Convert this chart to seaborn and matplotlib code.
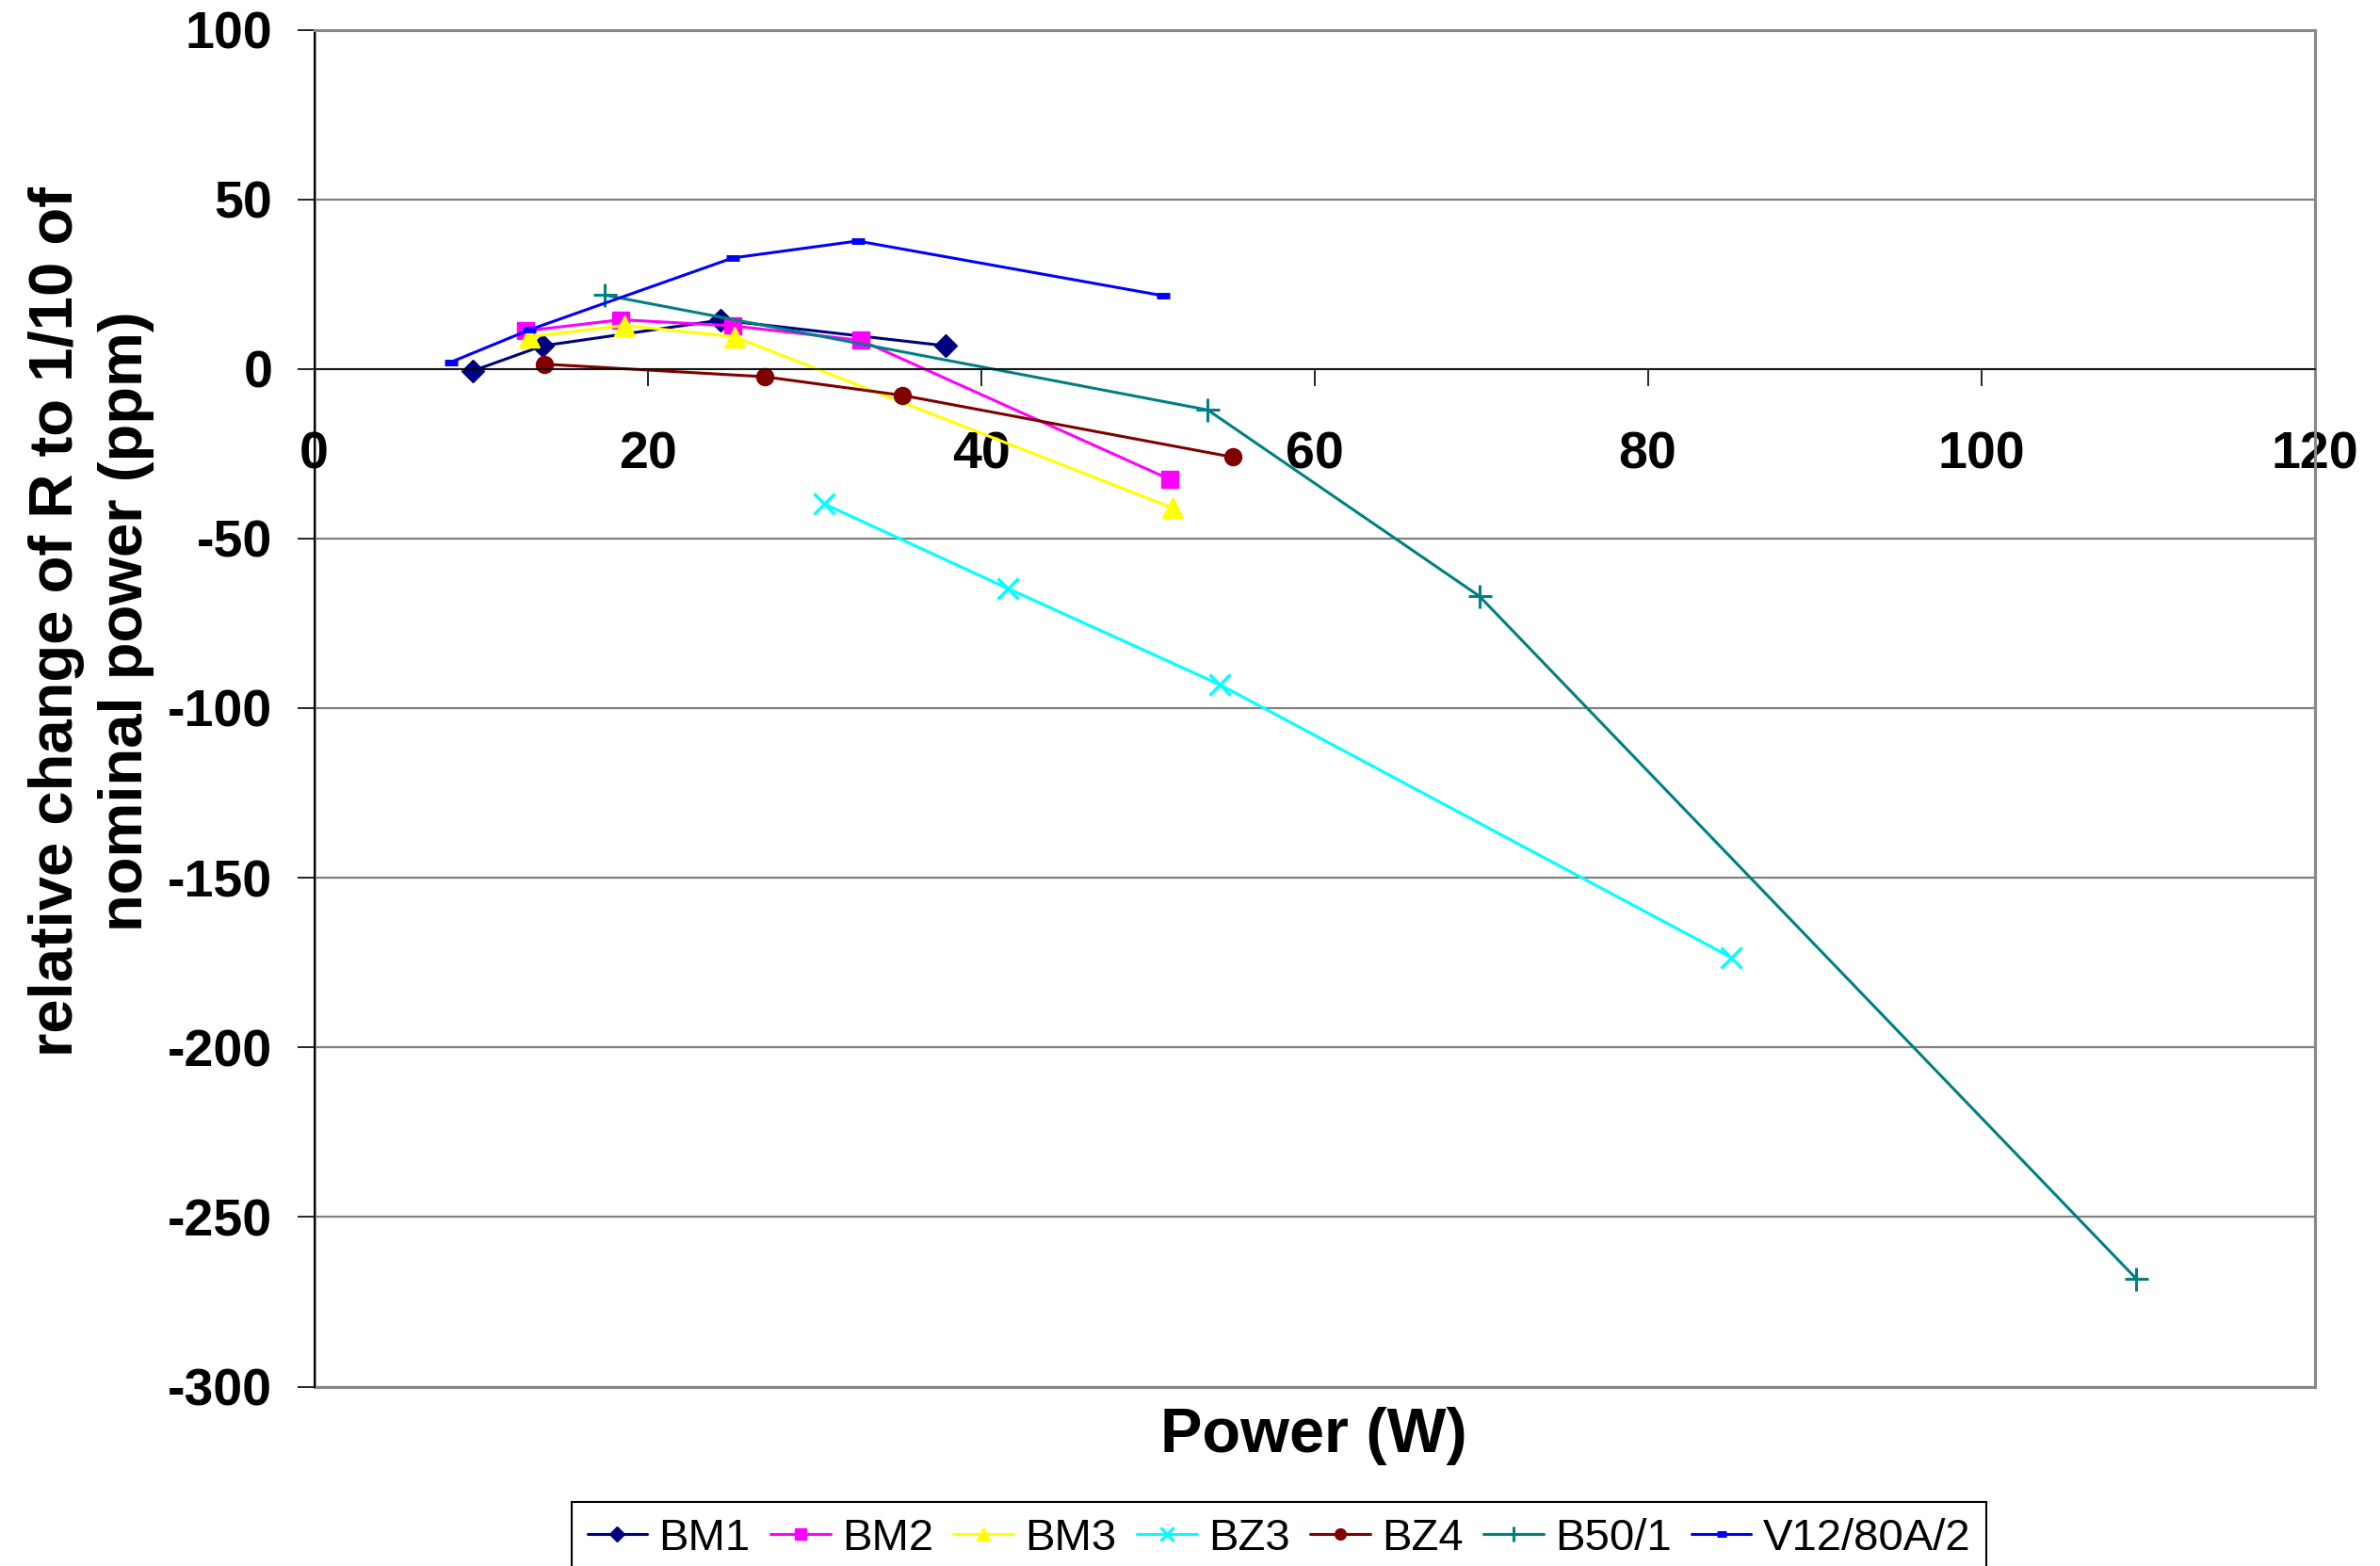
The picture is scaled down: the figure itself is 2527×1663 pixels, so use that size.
import matplotlib
matplotlib.use("Agg")
import matplotlib.pyplot as plt
from matplotlib.patches import Rectangle
import seaborn as sns
import pandas as pd

# ---------------- data ----------------
bm1_x = [9.5, 13.7, 24.4, 37.9]
bm1_y = [-0.6, 6.8, 14.4, 6.8]

bm2_x = [12.7, 18.4, 25.1, 32.8, 51.3]
bm2_y = [11.2, 14.5, 12.7, 8.4, -32.5]

bm3_x = [12.9, 18.6, 25.2, 51.5]
bm3_y = [9.5, 12.8, 9.5, -41.0]

bz3_x = [30.6, 41.6, 54.3, 85.0]
bz3_y = [-39.8, -64.7, -93.0, -173.5]

bz4_x = [13.8, 27.0, 35.3, 55.1]
bz4_y = [1.4, -2.3, -7.8, -26.0]

b50_x = [17.4, 53.6, 69.9, 109.3]
b50_y = [21.8, -12.1, -67.0, -268.2]

v12_x = [8.2, 12.9, 25.1, 32.6, 50.9]
v12_y = [2.0, 11.5, 32.7, 37.7, 21.6]

series_names = ["BM1", "BM2", "BM3", "BZ3", "BZ4", "B50/1", "V12/80A/2"]
x_ticks = [0, 20, 40, 60, 80, 100, 120]
y_ticks = [-300, -250, -200, -150, -100, -50, 0, 50, 100]

series = [
    (series_names[0], bm1_x, bm1_y, "#000080", "D", 12, 1.0),
    (series_names[1], bm2_x, bm2_y, "#FF00FF", "s", 13, 1.0),
    (series_names[2], bm3_x, bm3_y, "#FFFF00", "^", 16, 1.0),
    (series_names[3], bz3_x, bz3_y, "#00FFFF", "x", 16, 2.4),
    (series_names[4], bz4_x, bz4_y, "#800000", "o", 13, 1.0),
    (series_names[5], b50_x, b50_y, "#008080", "+", 18, 2.2),
    (series_names[6], v12_x, v12_y, "#0000FF", "_", 10, 5.0),
]

# ---------------- style ----------------
sns.set_style("white")
plt.rcParams["font.family"] = ["Liberation Sans", "DejaVu Sans"]
plt.rcParams["text.color"] = "black"
plt.rcParams["axes.labelcolor"] = "black"
plt.rcParams["xtick.color"] = "black"
plt.rcParams["ytick.color"] = "black"
plt.rcParams["xtick.labelsize"] = 40
plt.rcParams["ytick.labelsize"] = 40

W, H = 2527, 1663
fig = plt.figure(figsize=(W / 100, H / 100), dpi=100)
ax = fig.add_axes([333.6 / W, 1 - 1472.5 / H, (2457.6 - 333.6) / W, (1472.5 - 31.5) / H])

for name, xs, ys, col, mk, ms, mew in series:
    df = pd.DataFrame({"x": xs, "y": ys})
    sns.lineplot(data=df, x="x", y="y", ax=ax, color=col, marker=mk,
                 markersize=ms, markeredgewidth=mew, markeredgecolor=col,
                 markerfacecolor=col, linewidth=2.2, label=name, sort=False,
                 estimator=None)

# axes: x-axis crossing at y=0, y-axis at x=0
ax.spines["bottom"].set_position(("data", 0))
ax.spines["bottom"].set_color("black")
ax.spines["bottom"].set_linewidth(1.2)
ax.spines["left"].set_color("black")
ax.spines["left"].set_linewidth(1.4)
ax.spines["top"].set_color("#888888")
ax.spines["top"].set_linewidth(2.2)
ax.spines["right"].set_color("#888888")
ax.spines["right"].set_linewidth(2.2)
ax.add_patch(Rectangle((0, 0), 1, 1, transform=ax.transAxes, fill=False,
                       edgecolor="#888888", linewidth=2.2, clip_on=False, zorder=0.5))

ax.set_xlim(0, 120)
ax.set_ylim(-300, 100)
ax.set_xticks(x_ticks)
ax.set_yticks(y_ticks)
ax.set_xticklabels([str(v) for v in x_ticks], fontsize=40, fontweight="bold", color="black")
ax.set_yticklabels([str(v) for v in y_ticks], fontsize=40, fontweight="bold", color="black")

ax.tick_params(axis="x", direction="out", length=13, width=1.2, color="black",
               pad=34, bottom=True, labelsize=40)
ax.tick_params(axis="y", direction="out", length=13, width=1.2, color="black",
               pad=19, left=True, labelsize=40)

# gridlines (horizontal only)
ax.yaxis.grid(True, color="#808080", linewidth=1.6, zorder=0)
ax.xaxis.grid(False)
ax.set_axisbelow(True)

ax.set_xlabel("")
ax.set_ylabel("")

fig.text(1395 / W, 1 - 1542 / H, "Power (W)", fontsize=48, fontweight="bold",
         ha="center", va="baseline", color="black")
fig.text(97 / W, 1 - 660 / H,
         "relative change of R to 1/10 of\nnominal power (ppm)",
         fontsize=47, fontweight="bold", rotation=90, ha="center", va="center",
         multialignment="center", linespacing=1.3, color="black")

if ax.get_legend():
    ax.get_legend().remove()
handles, labels = ax.get_legend_handles_labels()
leg = fig.legend(handles, labels, loc="upper left",
                 bbox_to_anchor=(607 / W, 1 - 1595 / H), bbox_transform=fig.transFigure,
                 ncol=7, fontsize=34, frameon=True, fancybox=False, framealpha=1,
                 edgecolor="black", handlelength=1.35, handletextpad=0.26,
                 columnspacing=0.45, borderpad=0.35, borderaxespad=0,
                 markerscale=0.65)
leg.get_frame().set_linewidth(1.5)
for t in leg.get_texts():
    t.set_color("black")

fig.savefig("out.png", dpi=100)
